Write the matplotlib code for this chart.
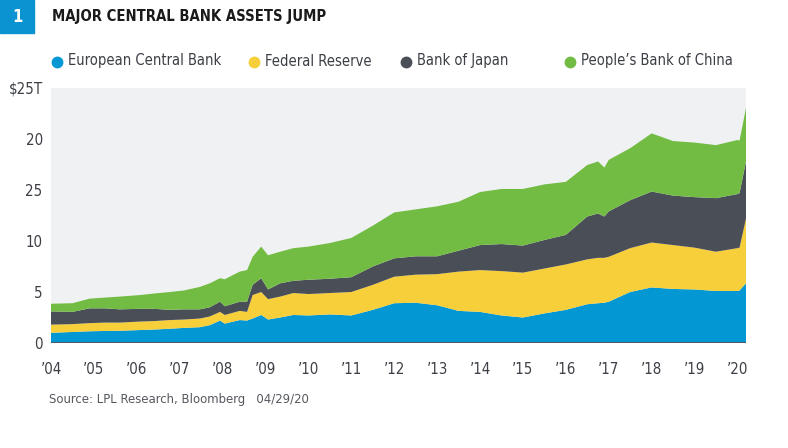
import matplotlib.pyplot as plt
from matplotlib.patches import Rectangle
from matplotlib.lines import Line2D

plt.rcParams["font.family"] = ["DejaVu Sans"]
plt.rcParams["font.stretch"] = "condensed"

# decimal years and cumulative tops, converted to per-bank values
years = [2004.00, 2004.50, 2004.90, 2005.25, 2005.60, 2006.07, 2006.40, 2006.77,
         2007.10, 2007.47, 2007.70, 2007.94, 2008.05, 2008.40, 2008.57, 2008.70,
         2008.90, 2009.06, 2009.34, 2009.65, 2010.00, 2010.50, 2011.00, 2011.50,
         2012.00, 2012.50, 2013.00, 2013.50, 2014.00, 2014.50, 2015.00, 2015.50,
         2016.00, 2016.50, 2016.75, 2016.90, 2017.00, 2017.50, 2018.00, 2018.50,
         2019.00, 2019.50, 2020.00, 2020.05, 2020.20]
ecb = [1.00, 1.08, 1.15, 1.18, 1.20, 1.27, 1.32, 1.40, 1.48, 1.55, 1.75, 2.20,
       1.90, 2.25, 2.20, 2.40, 2.75, 2.30, 2.50, 2.75, 2.70, 2.80, 2.70, 3.25,
       3.90, 3.95, 3.70, 3.15, 3.05, 2.70, 2.50, 2.90, 3.25, 3.80, 3.90, 3.95,
       4.05, 5.00, 5.45, 5.30, 5.25, 5.10, 5.10, 5.15, 5.85]
fed = [0.80, 0.77, 0.80, 0.82, 0.80, 0.83, 0.83, 0.85, 0.82, 0.85, 0.85, 0.85,
       0.85, 0.90, 0.85, 2.30, 2.25, 2.00, 2.05, 2.15, 2.10, 2.10, 2.30, 2.45,
       2.60, 2.75, 3.05, 3.85, 4.10, 4.35, 4.40, 4.40, 4.45, 4.40, 4.45, 4.40,
       4.40, 4.30, 4.40, 4.30, 4.10, 3.85, 4.20, 4.20, 6.35]
boj = [1.30, 1.20, 1.45, 1.40, 1.30, 1.25, 1.20, 1.00, 1.00, 0.90, 0.90, 1.00,
       0.85, 0.90, 1.00, 1.00, 1.35, 0.95, 1.30, 1.20, 1.40, 1.40, 1.45, 1.80,
       1.80, 1.80, 1.75, 2.05, 2.45, 2.65, 2.65, 2.80, 2.90, 4.20, 4.35, 4.05,
       4.45, 4.70, 5.00, 4.85, 4.95, 5.25, 5.30, 5.35, 5.60]
pboc = [0.75, 0.85, 0.95, 1.05, 1.25, 1.35, 1.50, 1.75, 1.85, 2.20, 2.35, 2.30,
        2.65, 2.95, 3.10, 2.75, 3.10, 3.35, 3.10, 3.20, 3.25, 3.50, 3.85, 4.00,
        4.50, 4.60, 4.90, 4.80, 5.20, 5.40, 5.55, 5.45, 5.20, 5.05, 5.10, 4.80,
        5.05, 5.10, 5.70, 5.35, 5.35, 5.20, 5.30, 5.15, 5.25]

names = ["European Central Bank", "Federal Reserve", "Bank of Japan", "People\u2019s Bank of China"]
colors = ["#0398d4", "#f6cf3b", "#4a4e57", "#73bc44"]
tick_years = list(range(2004, 2021))
tick_labels = [f"\u2019{y % 100:02d}" for y in tick_years]
ytick_vals = [0, 5, 10, 15, 20, 25]
ytick_labels = ["0", "5", "10", "25", "20", "$25T"]

text_color = "#3c3f45"

fig = plt.figure(figsize=(7.88, 4.48), dpi=100)
ax = fig.add_axes([51 / 788, 105 / 448, 695 / 788, 255 / 448])
ax.set_facecolor("#f0f1f3")
ax.stackplot(years, ecb, fed, boj, pboc, colors=colors, linewidth=0)
ax.set_xlim(2004, 2020.2)
ax.set_ylim(0, 25)
ax.axhline(0, color="#4b5866", linewidth=2.2, zorder=5)
for side in ax.spines.values():
    side.set_visible(False)
ax.set_xticks(tick_years)
ax.set_xticklabels(tick_labels)
ax.set_yticks(ytick_vals)
ax.set_yticklabels(ytick_labels)
ax.tick_params(length=0, labelsize=10.8, colors=text_color)
ax.tick_params(axis="x", pad=14)
ax.tick_params(axis="y", pad=6)

# header box and title
fig.patches.append(Rectangle((0, 1 - 33 / 448), 34 / 788, 33 / 448,
                             transform=fig.transFigure, color="#0a93d0"))
fig.text(17 / 788, 1 - 17 / 448, "1", color="white", fontsize=12, fontweight="bold",
         ha="center", va="center")
fig.text(52 / 788, 1 - 17 / 448, "MAJOR CENTRAL BANK ASSETS JUMP", color="#1a1a1a",
         fontsize=10.6, fontweight="bold", ha="left", va="center")

# legend row
dot_x = [57, 254, 406, 570]
for x, name, c in zip(dot_x, names, colors):
    fig.add_artist(Line2D([x / 788], [1 - 62 / 448], marker="o", markersize=7.5,
                          color=c, linestyle="none", transform=fig.transFigure))
    fig.text((x + 11) / 788, 1 - 61 / 448, name, color=text_color, fontsize=10.5,
             ha="left", va="center")

fig.text(49 / 788, 1 - 399 / 448, "Source: LPL Research, Bloomberg   04/29/20",
         color="#55585e", fontsize=9.4, ha="left", va="center")

fig.savefig("out.png", dpi=100)
